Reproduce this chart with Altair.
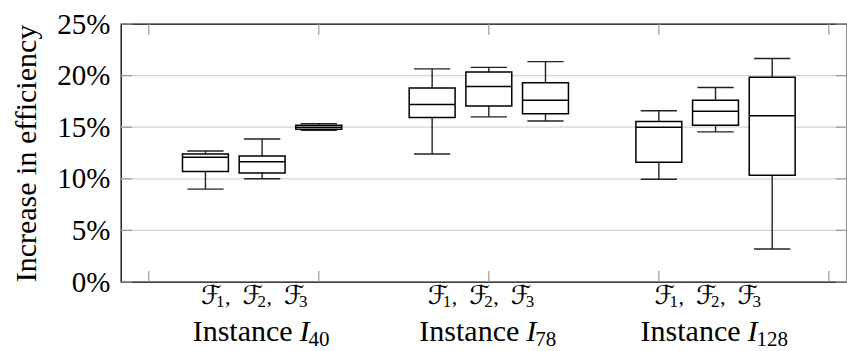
import altair as alt
import pandas as pd

# Box positions along the x axis (three families per instance)
positions = [1, 2, 3, 5, 6, 7, 9, 10, 11]
# Five-number summaries, increase in efficiency (%)
whisker_low = [9.0, 10.0, 14.7, 12.4, 16.0, 15.6, 9.95, 14.55, 3.2]
quart1 = [10.7, 10.55, 14.8, 15.95, 17.05, 16.3, 11.6, 15.2, 10.35]
medians = [12.1, 11.65, 15.0, 17.2, 18.95, 17.6, 15.0, 16.55, 16.1]
quart3 = [12.4, 12.2, 15.2, 18.8, 20.35, 19.3, 15.55, 17.6, 19.85]
whisker_high = [12.7, 13.85, 15.35, 20.65, 20.8, 21.35, 16.6, 18.85, 21.65]

# Instance groups and the families shown under each
group_centers = [2, 6, 10]
instance_sub = ["40", "78", "128"]
family_index = [1, 2, 3]

x_ticks = [0, 3, 6, 9, 12]
y_ticks = [0, 5, 10, 15, 20, 25]

FONT = "Liberation Serif"
W, H = 726, 258
PX_PER_UNIT = W / (12.32 + 0.49)

boxes = pd.DataFrame({
    "pos": positions, "low": whisker_low, "q1": quart1,
    "med": medians, "q3": quart3, "high": whisker_high,
})
groups = pd.DataFrame({"center": group_centers, "sub": instance_sub})
families = pd.DataFrame(
    [{"center": c, "k": k, "num": str(k)} for c in group_centers for k in family_index]
)
xt = pd.DataFrame({"t": x_ticks})
yt = pd.DataFrame({"v": y_ticks})

xs = alt.Scale(domain=[-0.49, 12.32], nice=False, zero=False)
ys = alt.Scale(domain=[0, 25], nice=False, zero=True)
yaxis = alt.Axis(
    title="Increase in efficiency", values=y_ticks,
    labelExpr="datum.value + '%'", ticks=False, domain=False, grid=False,
    labelFont=FONT, labelFontSize=29, labelColor="black", labelPadding=11,
    titleFont=FONT, titleFontSize=30, titleFontWeight="normal", titleColor="black",
    titleX=-95, titleY=H / 2, titleAngle=270, titleAlign="center", titleBaseline="middle",
)

# Horizontal grid lines between the frame edges
grid = alt.Chart(yt).transform_filter("datum.v > 0 && datum.v < 25").mark_rule(
    color="#d4d4d4", strokeWidth=1.3).encode(
    y=alt.Y("v:Q", scale=ys, axis=yaxis), x=alt.value(0), x2=alt.value(W))

b = alt.Chart(boxes)
box_x = b.transform_calculate(left="datum.pos - 0.405", right="datum.pos + 0.405",
                              cl="datum.pos - 0.32", cr="datum.pos + 0.32")

whisker = b.mark_rule(color="#222222", strokeWidth=1.4).encode(
    x=alt.X("pos:Q", scale=xs, axis=None),
    y=alt.Y("low:Q", scale=ys, axis=yaxis),
    y2="high:Q",
)
cap_lo = box_x.mark_rule(color="#222222", strokeWidth=1.4).encode(
    x=alt.X("cl:Q", scale=xs, axis=None), x2="cr:Q",
    y=alt.Y("low:Q", scale=ys, axis=yaxis),
)
cap_hi = box_x.mark_rule(color="#222222", strokeWidth=1.4).encode(
    x=alt.X("cl:Q", scale=xs, axis=None), x2="cr:Q",
    y=alt.Y("high:Q", scale=ys, axis=yaxis),
)
box = box_x.mark_rect(fill="white", stroke="black", strokeWidth=1.5).encode(
    x=alt.X("left:Q", scale=xs, axis=None), x2="right:Q",
    y=alt.Y("q1:Q", scale=ys, axis=yaxis), y2="q3:Q",
)
median = box_x.mark_rule(color="black", strokeWidth=1.5).encode(
    x=alt.X("left:Q", scale=xs, axis=None), x2="right:Q",
    y=alt.Y("med:Q", scale=ys, axis=yaxis),
)

# Inward tick marks on all four sides
tick_style = dict(color="#999999", strokeWidth=1.2)
xt_bottom = alt.Chart(xt).mark_rule(**tick_style).encode(
    x=alt.X("t:Q", scale=xs, axis=None), y=alt.value(H), y2=alt.value(H - 11))
xt_top = alt.Chart(xt).mark_rule(**tick_style).encode(
    x=alt.X("t:Q", scale=xs, axis=None), y=alt.value(0), y2=alt.value(11))
yt_left = alt.Chart(yt).mark_rule(**tick_style).encode(
    y=alt.Y("v:Q", scale=ys, axis=yaxis), x=alt.value(0), x2=alt.value(11))
yt_right = alt.Chart(yt).mark_rule(**tick_style).encode(
    y=alt.Y("v:Q", scale=ys, axis=yaxis), x=alt.value(W - 11), x2=alt.value(W))

# Family labels: script F, subscript index, comma
fam = alt.Chart(families).transform_calculate(
    fx=f"datum.center + ((datum.k - 1) * 41.5 - 61) / {PX_PER_UNIT}"
)
fam_f = fam.mark_text(font="DejaVu Sans", fontSize=26, fontStyle="italic",
                      baseline="alphabetic", align="left", color="black").encode(
    x=alt.X("fx:Q", scale=xs, axis=None), y=alt.value(280), text=alt.value("ℱ"))
fam_n = fam.mark_text(font=FONT, fontSize=17, baseline="alphabetic", align="left",
                      dx=15, color="black").encode(
    x=alt.X("fx:Q", scale=xs, axis=None), y=alt.value(283), text="num:N")
fam_c = fam.transform_filter("datum.k < 3").mark_text(
    font=FONT, fontSize=22, baseline="alphabetic", align="left", dx=24, color="black").encode(
    x=alt.X("fx:Q", scale=xs, axis=None), y=alt.value(280), text=alt.value(","))

# "Instance I_n": anchor sits between the word and the italic I
inst = alt.Chart(groups).transform_calculate(
    anchor=f"datum.center + (107 - 10 - 11 * length(datum.sub)) / 2 / {PX_PER_UNIT}"
)
inst_word = inst.mark_text(font=FONT, fontSize=30, baseline="alphabetic", align="right",
                           dx=-7, color="black").encode(
    x=alt.X("anchor:Q", scale=xs, axis=None), y=alt.value(317), text=alt.value("Instance"))
inst_i = inst.mark_text(font=FONT, fontSize=30, fontStyle="italic", baseline="alphabetic",
                        align="left", color="black").encode(
    x=alt.X("anchor:Q", scale=xs, axis=None), y=alt.value(317), text=alt.value("I"))
inst_sub = inst.mark_text(font=FONT, fontSize=21, baseline="alphabetic", align="left",
                          dx=9, color="black").encode(
    x=alt.X("anchor:Q", scale=xs, axis=None), y=alt.value(322), text="sub:N")

chart = alt.layer(
    grid, whisker, cap_lo, cap_hi, box, median,
    xt_bottom, xt_top, yt_left, yt_right,
    fam_f, fam_n, fam_c, inst_word, inst_i, inst_sub,
).properties(
    width=W, height=H,
    background="white",
    autosize=alt.AutoSizeParams(type="none"),
    padding={"left": 121, "top": 24, "right": 0, "bottom": 69},
).configure_view(
    stroke="black", strokeWidth=1.3,
)

chart.save("out.html", embed_options={"renderer": "svg", "actions": False})
